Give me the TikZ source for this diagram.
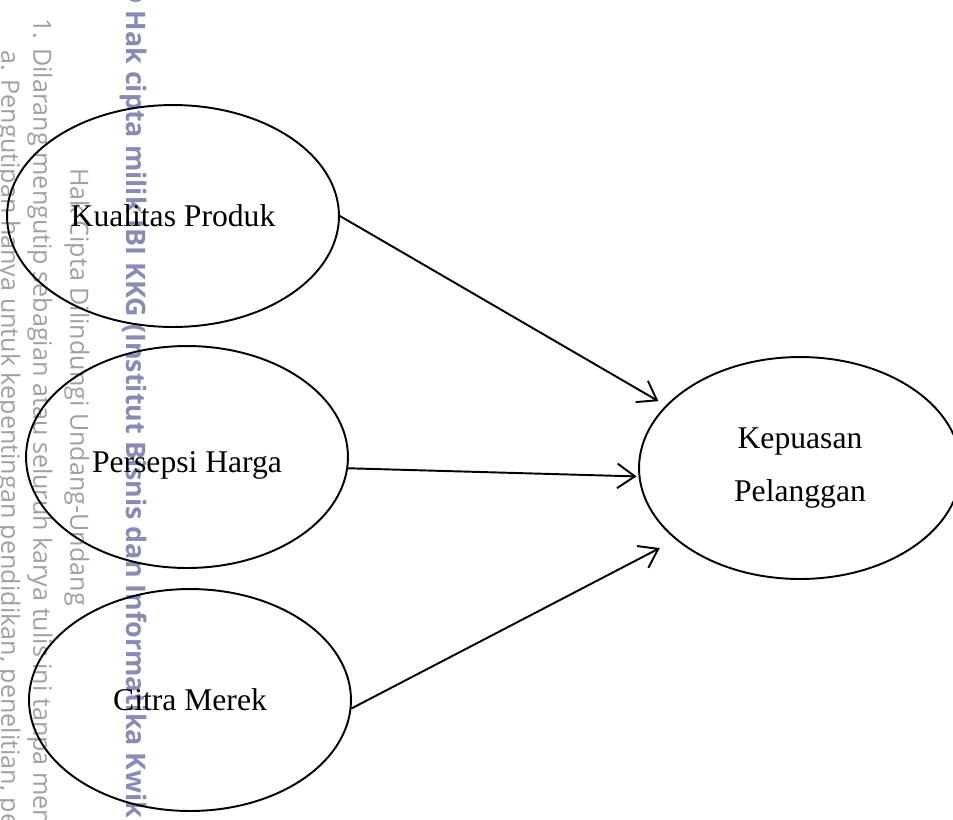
\documentclass[tikz,border=0pt]{standalone}
\usepackage{fontspec}
\setmainfont{Liberation Serif}
\newfontfamily\wmfont{Open Sans}
\usepackage{tikz}
\usetikzlibrary{arrows.meta, positioning, shapes.geometric}
\definecolor{wmblue}{RGB}{138,138,182}
\definecolor{wmgray}{RGB}{160,160,160}

\begin{document}
\begin{tikzpicture}[
      x=0.02cm, y=-0.02cm,
      var/.style={draw, ellipse, line width=1.1pt, minimum width=6.44cm,
                  minimum height=4.44cm, inner sep=0pt, align=center,
                  font=\fontsize{18pt}{30.6pt}\selectfont},
      arr/.style={-{Straight Barb[length=10pt, width=14pt]}, line width=1.1pt},
      wm/.style={rotate=-90, anchor=west, inner sep=0pt, font=\wmfont\fontsize{14.3pt}{17pt}\selectfont, color=wmgray}
  ]
    \useasboundingbox (0,0) rectangle (953,819);
    \clip (0,0) rectangle (953,819);

    % repository watermark
    \node[wm] (wma)  at (8,50)   {a. Pengutipan hanya untuk kepentingan pendidikan, penelitian, penulisan};
    \node[wm] (wm1)  at (40,18)  {1. Dilarang mengutip sebagian atau seluruh karya tulis ini tanpa mencantumkan};
    \node[wm] (wmhc) at (77,168) {Hak Cipta Dilindungi Undang-Undang};
    \node[wm, color=wmblue, font=\wmfont\bfseries\fontsize{15.3pt}{18pt}\selectfont] (wmk) at (134,-19)
      {© Hak cipta milik IBI KKG (Institut Bisnis dan Informatika Kwik Kian Gie)};

    \node[var, minimum width=6.64cm] (kp) at (173,216) {Kualitas Produk};
    \node[var] (ph)  at (187,457) {\raisebox{-0.16cm}[\height][\depth]{Persepsi Harga}};
    \node[var] (cm)  at (190,700) {Citra Merek};
    \node[var] (kep) at (800,468) {Kepuasan\\Pelanggan};

    \draw[arr, shorten >=0.17cm] (kp.east) -- (kep.155);
    \draw[arr, shorten >=0.04cm] (ph.-4)   -- (kep.183);
    \draw[arr, shorten >=0.36cm] (cm.-3)   -- (kep.210);
  \end{tikzpicture}
\end{document}
